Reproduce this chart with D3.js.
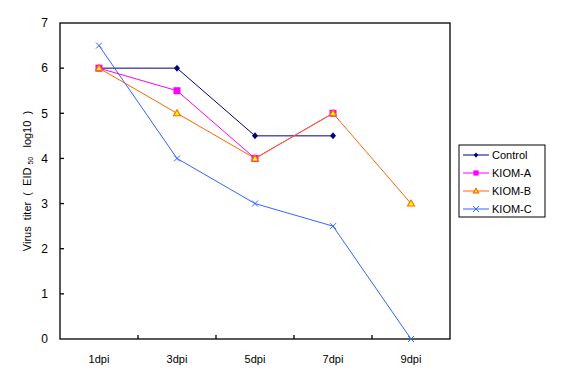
<!DOCTYPE html>
<html>
<head>
<meta charset="utf-8">
<script src="https://cdn.jsdelivr.net/npm/d3@7"></script>
<style>
  body { margin: 0; background: #fff; }
  text { font-family: "Liberation Sans", Arial, sans-serif; }
</style>
</head>
<body>
<div id="main"></div>
<script>
// chart data
var days = ["1dpi", "3dpi", "5dpi", "7dpi", "9dpi"];
var seriesNames = ["Control", "KIOM-A", "KIOM-B", "KIOM-C"];
var controlVals = [6, 6, 4.5, 4.5, null];
var kiomAVals = [6, 5.5, 4, 5, null];
var kiomBVals = [6, 5, 4, 5, 3];
var kiomCVals = [6.5, 4, 3, 2.5, 0];
var yTicks = [0, 1, 2, 3, 4, 5, 6, 7];

var W = 563, H = 388;
var margin = { top: 23, right: 113, bottom: 49, left: 60 },
  width = W - margin.left - margin.right,
  height = H - margin.top - margin.bottom;

var series = [
  { name: seriesNames[0], values: controlVals, stroke: "#000080", fill: "#000080", shape: "diamond" },
  { name: seriesNames[1], values: kiomAVals, stroke: "#ff00ff", fill: "#ff00ff", shape: "square" },
  { name: seriesNames[2], values: kiomBVals, stroke: "#ff6600", fill: "#ffff00", shape: "triangle" },
  { name: seriesNames[3], values: kiomCVals, stroke: "#3366ff", fill: "none", shape: "x" }
];

var svg = d3.select('#main')
  .append("svg")
  .attr('width', W)
  .attr('height', H)
  .append("g")
  .attr("transform", "translate(" + margin.left + "," + margin.top + ")");

var xScale = d3.scaleBand().range([0, width]).domain(days);
var yScale = d3.scaleLinear().range([height, 0]).domain([0, 7]);

// frame
svg.append("rect")
  .attr("width", width).attr("height", height)
  .attr("fill", "none").attr("stroke", "#000").attr("stroke-width", 1.3);

// x axis, ticks inside pointing up
var xAx = svg.append("g")
  .attr("transform", "translate(0," + height + ")")
  .call(d3.axisBottom(xScale).tickSize(0).tickPadding(16));
xAx.select(".domain").remove();
xAx.selectAll("text").style("font-size", "11px").attr("fill", "#000");
svg.append("g").selectAll("line")
  .data(days.slice(1))
  .enter().append("line")
  .attr("x1", d => xScale(d)).attr("x2", d => xScale(d))
  .attr("y1", height).attr("y2", height - 4)
  .attr("stroke", "#000").attr("stroke-width", 1.3);

// y axis, ticks inside
var yAx = svg.append("g")
  .call(d3.axisLeft(yScale).tickValues(yTicks).tickSize(0).tickPadding(12).tickFormat(d3.format("d")));
yAx.select(".domain").remove();
yAx.selectAll("text").style("font-size", "12px").attr("fill", "#000");
svg.append("g").selectAll("line")
  .data(yTicks.slice(1, -1))
  .enter().append("line")
  .attr("x1", 0).attr("x2", 4)
  .attr("y1", d => yScale(d)).attr("y2", d => yScale(d))
  .attr("stroke", "#000").attr("stroke-width", 1.3);

// y axis title
var yt = svg.append("text")
  .attr("transform", "translate(-29," + (height / 2) + ") rotate(-90)")
  .style("text-anchor", "middle")
  .style("white-space", "pre")
  .style("font-size", "11px");
yt.append("tspan").text("Virus  titer  (  EID ");
yt.append("tspan").style("font-size", "7px").attr("dy", 2).text("50");
yt.append("tspan").attr("dy", -2).text("   log10  )");

var xPos = d => xScale(d) + xScale.bandwidth() / 2;

function marker(sel, s, k) {
  if (s.shape === "diamond") {
    sel.append("path").attr("d", "M0,-" + 3.5 * k + "L" + 3 * k + ",0L0," + 3.5 * k + "L-" + 3 * k + ",0Z")
      .attr("fill", s.fill);
  } else if (s.shape === "square") {
    sel.append("rect").attr("x", -3.5 * k).attr("y", -3.5 * k).attr("width", 7 * k).attr("height", 7 * k)
      .attr("fill", s.fill);
  } else if (s.shape === "triangle") {
    sel.append("path").attr("d", "M0," + (-3.5 * k) + "L" + 3.5 * k + "," + 2.5 * k + "L" + (-3.5 * k) + "," + 2.5 * k + "Z")
      .attr("fill", s.fill).attr("stroke", s.stroke).attr("stroke-width", 1.1);
  } else {
    sel.append("path").attr("d", "M-3,-3L3,3M-3,3L3,-3")
      .attr("fill", "none").attr("stroke", s.stroke);
  }
}

var line = d3.line()
  .defined(d => d.v !== null)
  .x(d => xPos(d.day))
  .y(d => yScale(d.v));

series.forEach(function (s) {
  var pts = s.values.map((v, i) => ({ day: days[i], v: v }));
  svg.append("path")
    .datum(pts)
    .attr("d", line)
    .attr("fill", "none")
    .attr("stroke", s.stroke)
    .attr("stroke-width", 1);
  svg.selectAll(null)
    .data(pts.filter(d => d.v !== null))
    .enter().append("g")
    .attr("transform", d => "translate(" + xPos(d.day) + "," + yScale(d.v) + ")")
    .each(function () { marker(d3.select(this), s, 1); });
});

// legend
var lg = svg.append("g").attr("transform", "translate(" + (width + 9) + ",122)");
lg.append("rect").attr("width", 86).attr("height", 72)
  .attr("fill", "#fff").attr("stroke", "#000");
var items = lg.selectAll(".legend")
  .data(series)
  .enter().append("g")
  .attr("class", "legend")
  .attr("transform", (d, i) => "translate(0," + (10 + i * 18) + ")");
items.append("line").attr("x1", 4).attr("x2", 30).attr("y1", 0).attr("y2", 0)
  .attr("stroke", d => d.stroke);
items.append("g").attr("transform", "translate(17,0)")
  .each(function (d) { marker(d3.select(this), d, 0.75); });
items.append("text").attr("x", 33).attr("dy", "0.35em")
  .style("font-size", "11px")
  .text(d => d.name);
</script>
</body>
</html>
